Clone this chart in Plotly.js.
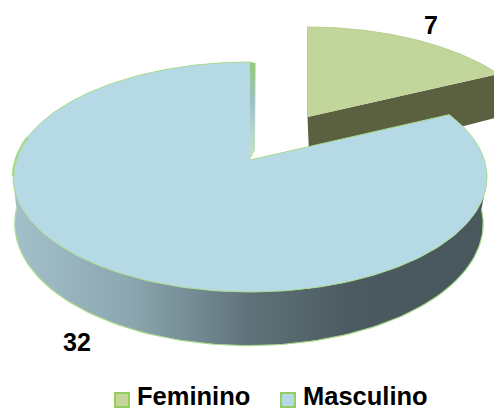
<!DOCTYPE html>
<html>
<head>
<meta charset="utf-8">
<script src="https://cdn.plot.ly/plotly-3.0.1.min.js"></script>
<style>html,body{margin:0;padding:0;background:#fff}#chart{width:494px;height:410px}</style>
</head>
<body>
<div id="chart"></div>
<script>
// Gender split shown as an exploded, tilted pie
const categories = ["Feminino", "Masculino"];
const values = [7, 32];

const total = values[0] + values[1];
const splitAngle = 2 * Math.PI * values[0] / total;   // clockwise from 12 o'clock
const deg = Math.PI / 180;

// Perspective discs: a tilted circle projected on the page coordinates
const blueTop = {x0: 250, y0: 160, a: 234.4, b: 112.5, k: 0.1478};
const blueBase = {x0: 249, y0: 209, a: 232.5, b: 120.2, k: 0.12};
const greenTop = {x0: 307.5, y0: 117, a: 231.3, b: 109.5, k: 0.217};
const greenDepthApex = 49, greenDepthRim = 43;

function project(d, t) {
  const w = 1 + d.k * Math.cos(t);
  return [d.x0 + d.a * Math.sin(t) / w, d.y0 - d.b * Math.cos(t) / w];
}
function arc(d, from, to, n = 120) {
  const pts = [];
  for (let i = 0; i <= n; i++) pts.push(project(d, from + (to - from) * i / n));
  return pts;
}
function poly(pts, style) {
  return Object.assign({
    x: pts.map(p => p[0]), y: pts.map(p => p[1]),
    mode: 'lines', fill: 'toself', hoverinfo: 'skip', showlegend: false,
    line: {width: 0, color: 'rgba(0,0,0,0)'}
  }, style);
}
function stroke(pts, color, width) {
  return {
    x: pts.map(p => p[0]), y: pts.map(p => p[1]),
    mode: 'lines', hoverinfo: 'skip', showlegend: false,
    line: {color: color, width: width}
  };
}

const GREEN = '#c2d69b', BLUE = '#b6dae5', DARK_GREEN = '#5a6040', EDGE = '#a9da8c';
const FONT = 'Liberation Sans, Arial, sans-serif';

const greenRimEnd = project(greenTop, splitAngle);
const greenApex = [greenTop.x0, greenTop.y0];
const blueApex = [blueTop.x0, blueTop.y0];
const blueArc = arc(blueTop, splitAngle, 2 * Math.PI, 240);
const blueStart = project(blueTop, 0);

// Key entries along the bottom row: swatch centres and text anchors
const keyX = [122, 288];
const keyY = 400;
const keyTextX = [137, 303];

function keySwatch(i, color) {
  return {
    x: [keyX[i]], y: [keyY], mode: 'markers', hoverinfo: 'skip', showlegend: false,
    name: categories[i],
    marker: {symbol: 'square', size: 14, color: color, line: {color: '#95ce5e', width: 2}}
  };
}

const traces = [
  // cut face of the detached slice
  poly([greenApex, greenRimEnd,
        [greenRimEnd[0], greenRimEnd[1] + greenDepthRim],
        [greenApex[0] + 2, greenApex[1] + greenDepthApex]], {fillcolor: DARK_GREEN}),
  // top of the detached slice
  poly([greenApex].concat(arc(greenTop, 0, splitAngle)), {
    fillcolor: GREEN, line: {color: '#b4d08c', width: 1}
  }),
  // wall of the large slice, shaded from left to right
  poly(arc(blueTop, 100 * deg, 260 * deg).concat(arc(blueBase, 270 * deg, 90 * deg)), {
    fillgradient: {
      type: 'horizontal',
      colorscale: [[0, '#a3c0ca'], [0.25, '#8ba6af'], [0.5, '#5f7279'], [0.72, '#4b5a60'], [1, '#49585d']]
    }
  }),
  stroke(arc(blueBase, 90 * deg, 270 * deg), EDGE, 1.2),
  // inner face seen edge-on beside the top of the large slice
  poly([blueStart, [blueStart[0] + 5.5, blueStart[1] + 1], [blueApex[0] + 5, blueApex[1] - 10], blueApex], {
    fillgradient: {
      type: 'vertical',
      colorscale: [[0, '#c8e2c0'], [0.3, '#b4d4cf'], [0.6, '#9fc0c6'], [1, '#93ca74']]
    }
  }),
  // top of the large slice
  poly([blueApex].concat(blueArc), {fillcolor: BLUE, line: {color: EDGE, width: 1}}),
  // thicker highlight on the far left of the rim
  stroke(arc(blueTop, 262 * deg, 282 * deg, 24), EDGE, 2.5),
  keySwatch(0, GREEN),
  keySwatch(1, BLUE)
];

const labelFont = {family: FONT, size: 25, color: '#000'};
const keyFont = {family: FONT, size: 25.5, color: '#000'};

function keyLabel(i) {
  return {x: keyTextX[i], y: 410, xanchor: 'left', yanchor: 'bottom', borderpad: 0, borderwidth: 0,
          text: '<b>' + categories[i] + '</b>', showarrow: false, font: keyFont};
}

const layout = {
  width: 494, height: 410,
  margin: {l: 0, r: 0, t: 0, b: 0},
  paper_bgcolor: '#fff', plot_bgcolor: '#fff',
  xaxis: {range: [0, 494], visible: false, fixedrange: true},
  yaxis: {range: [410, 0], visible: false, fixedrange: true},
  showlegend: false,
  annotations: [
    {x: 431, y: 25, text: '<b>' + values[0] + '</b>', showarrow: false, font: labelFont},
    {x: 77, y: 342, text: '<b>' + values[1] + '</b>', showarrow: false, font: labelFont},
    keyLabel(0),
    keyLabel(1)
  ]
};

Plotly.newPlot('chart', traces, layout, {displayModeBar: false, staticPlot: true});
</script>
</body>
</html>
